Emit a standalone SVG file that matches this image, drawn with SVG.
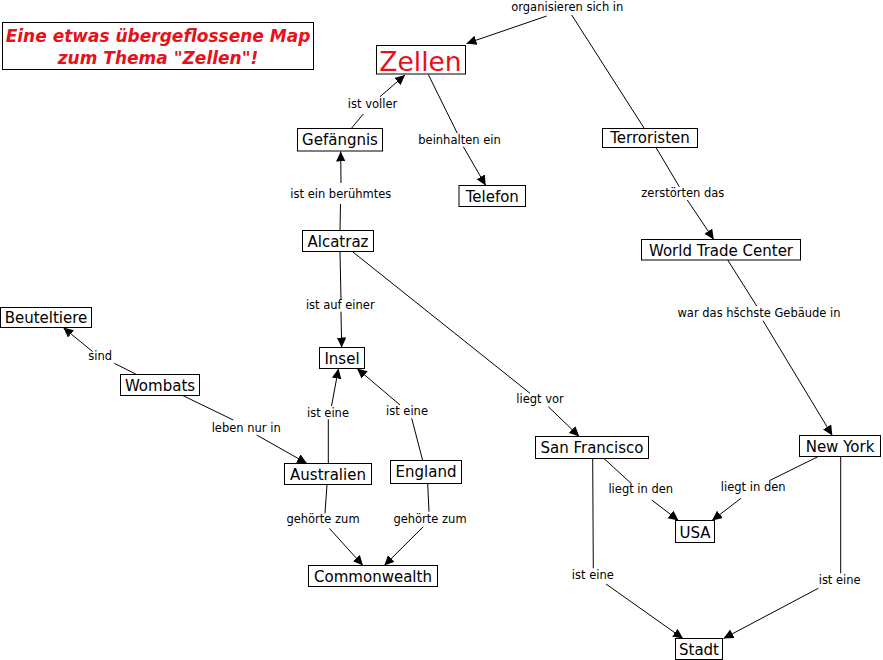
<svg xmlns="http://www.w3.org/2000/svg" width="883" height="660" viewBox="0 0 883 660">
<style>
.box{fill:#fff;stroke:#000;stroke-width:1}
.nt{font-family:"DejaVu Sans","Liberation Sans",sans-serif;font-size:15px;fill:#000;text-anchor:middle}
.lt{font-family:"DejaVu Sans","Liberation Sans",sans-serif;font-size:11.5px;fill:#000;text-anchor:middle}
.title{font-family:"DejaVu Sans","Liberation Sans",sans-serif;font-size:17px;font-weight:bold;font-style:italic;fill:#e8101a;text-anchor:middle}
.con{fill:none;stroke:#000;stroke-width:1;marker-end:url(#arr)}
</style>
<defs>
<marker id="arr" markerUnits="userSpaceOnUse" markerWidth="10" markerHeight="10" viewBox="0 0 10 10" refX="10" refY="4.75" orient="auto">
<path d="M0,0 L10,4.75 L0,9.5 z" fill="#000"/>
</marker>
</defs>
<g id="connectors">
<path class="con" d="M644,128 L571.7,15 M546.7,16 L466.5,43.5"/>
<path class="con" d="M351.7,128 L363.3,114 M380,96.7 L405,75"/>
<path class="con" d="M428.3,74.5 L457.3,133.3 M463.3,146.7 L485.7,185.5"/>
<path class="con" d="M340,230.5 L340.5,204 M341,183 L340.7,151.5"/>
<path class="con" d="M656,147.5 L679.3,186.7 M687.3,200 L713.8,239.5"/>
<path class="con" d="M727.7,260 L756.7,306 M763,320.7 L832.3,435.5"/>
<path class="con" d="M340,251.5 L341,300 M341,311.7 L341.7,347.5"/>
<path class="con" d="M352.3,251.5 L530,393.3 M548.3,406.7 L579.3,436.5"/>
<path class="con" d="M136.7,374.5 L114.3,363.3 M92.7,351.7 L63.3,327.5"/>
<path class="con" d="M182.7,395.5 L233.3,420 M256.7,435 L307,463.5"/>
<path class="con" d="M328.3,463.5 L328.3,419.3 M331.5,406 L338.5,368.5"/>
<path class="con" d="M422.7,460.5 L411.7,418.3 M400,405 L357,368.5"/>
<path class="con" d="M327,484.5 L325,513.3 M329.3,528.3 L363,565.5"/>
<path class="con" d="M427.7,483.5 L429,511.7 M423.3,526.7 L384.3,565.5"/>
<path class="con" d="M604,458.5 L631.7,484 M651.7,500 L678.5,520.5"/>
<path class="con" d="M818.3,456.5 L769.3,480.7 M741,498.3 L712,520.5"/>
<path class="con" d="M592.7,458.5 L593.3,568.3 M606,584 L683,638.5"/>
<path class="con" d="M840.7,456.5 L840.7,573.3 M818.3,588.3 L723.5,638.5"/>
</g>
<g id="labels">
<text class="lt" x="567.3" y="10.5">organisieren sich in</text>
<text class="lt" x="372.5" y="108">ist voller</text>
<text class="lt" x="459.5" y="143.5">beinhalten ein</text>
<text class="lt" x="340.8" y="197.5">ist ein berühmtes</text>
<text class="lt" x="682.8" y="196.7">zerstörten das</text>
<text class="lt" x="759" y="316.7">war das hšchste Gebäude in</text>
<text class="lt" x="340.3" y="309.3">ist auf einer</text>
<text class="lt" x="540" y="402.7">liegt vor</text>
<text class="lt" x="100.2" y="360">sind</text>
<text class="lt" x="246.2" y="432">leben nur in</text>
<text class="lt" x="328" y="416.7">ist eine</text>
<text class="lt" x="407" y="415">ist eine</text>
<text class="lt" x="323" y="523.3">gehörte zum</text>
<text class="lt" x="430" y="522.7">gehörte zum</text>
<text class="lt" x="640.8" y="493.3">liegt in den</text>
<text class="lt" x="753.2" y="491">liegt in den</text>
<text class="lt" x="592.8" y="579.3">ist eine</text>
<text class="lt" x="839.7" y="584">ist eine</text>
</g>
<g id="title">
<rect class="box" x="2.5" y="22.5" width="311" height="47"/>
<text class="title" x="158" y="41.7">Eine etwas übergeflossene Map</text>
<text class="title" x="158" y="64.3">zum Thema "Zellen"!</text>
</g>
<g id="zellen"><rect class="box" x="376.5" y="45.5" width="89" height="28.5"/><text class="nt" x="420.5" y="70.5" style="font-size:26.5px;fill:#e8101a">Zellen</text></g>
<g id="gefaengnis"><rect class="box" x="297.5" y="128.5" width="85" height="22.5"/><text class="nt" x="340" y="144.5">Gefängnis</text></g>
<g id="telefon"><rect class="box" x="459" y="185.5" width="66.5" height="21"/><text class="nt" x="492.25" y="202">Telefon</text></g>
<g id="terroristen"><rect class="box" x="602.5" y="128.5" width="95" height="19"/><text class="nt" x="650" y="143">Terroristen</text></g>
<g id="wtc"><rect class="box" x="641.5" y="239.5" width="159" height="20.5"/><text class="nt" x="721" y="255.5">World Trade Center</text></g>
<g id="alcatraz"><rect class="box" x="302.5" y="230.5" width="71" height="21"/><text class="nt" x="338" y="246.5">Alcatraz</text></g>
<g id="insel"><rect class="box" x="319.5" y="347.5" width="45" height="21"/><text class="nt" x="342" y="364">Insel</text></g>
<g id="beuteltiere"><rect class="box" x="0.5" y="307.5" width="91" height="20"/><text class="nt" x="46" y="323">Beuteltiere</text></g>
<g id="wombats"><rect class="box" x="120.5" y="374.5" width="79" height="21"/><text class="nt" x="160" y="390.5">Wombats</text></g>
<g id="australien"><rect class="box" x="284.5" y="463.5" width="87" height="21"/><text class="nt" x="328" y="480">Australien</text></g>
<g id="england"><rect class="box" x="390.5" y="460.5" width="71" height="23"/><text class="nt" x="426" y="476.5">England</text></g>
<g id="commonwealth"><rect class="box" x="308.5" y="565.5" width="129" height="21"/><text class="nt" x="373" y="582">Commonwealth</text></g>
<g id="sanfrancisco"><rect class="box" x="535.5" y="436.5" width="113" height="22"/><text class="nt" x="592" y="453">San Francisco</text></g>
<g id="newyork"><rect class="box" x="799.5" y="435.5" width="81" height="21"/><text class="nt" x="840" y="451.5">New York</text></g>
<g id="usa"><rect class="box" x="675.5" y="520.5" width="39" height="22"/><text class="nt" x="695" y="538">USA</text></g>
<g id="stadt"><rect class="box" x="675.5" y="638.5" width="47" height="21"/><text class="nt" x="699" y="655">Stadt</text></g>
</svg>
